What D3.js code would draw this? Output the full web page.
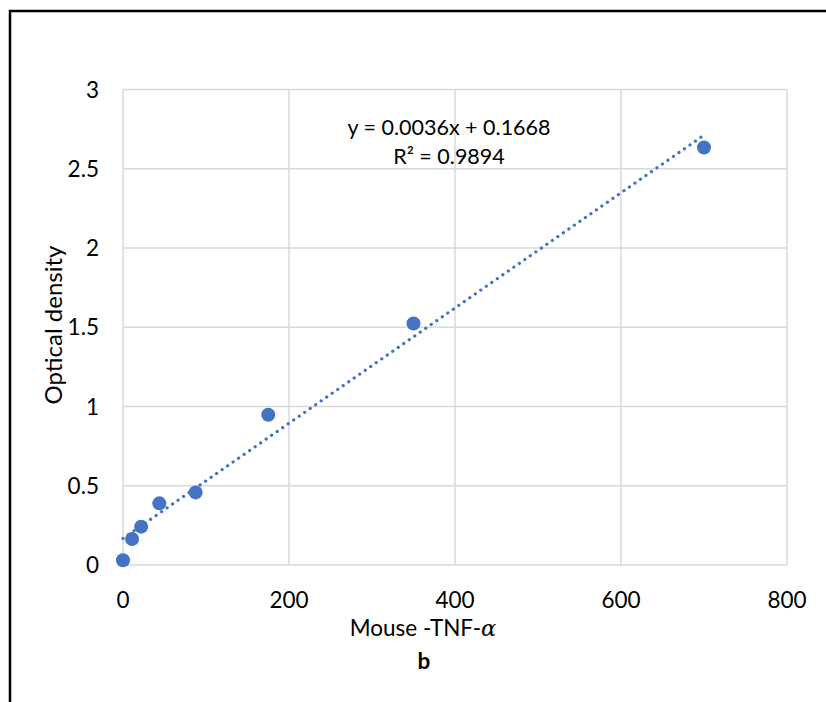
<!DOCTYPE html>
<html><head><meta charset="utf-8">
<script src="https://cdn.jsdelivr.net/npm/d3@7"></script>
<style>
html,body{margin:0;padding:0;background:#fff;}
svg{display:block;font-family:Lato, "Open Sans", sans-serif;}
</style></head>
<body><svg id="chart" width="826" height="702"></svg>
<script>
const concentrations = [0, 10.9375, 21.875, 43.75, 87.5, 175, 350, 700];
const opticalDensity = [0.03, 0.164, 0.242, 0.389, 0.458, 0.948, 1.524, 2.634];
const xTicks = [0, 200, 400, 600, 800];
const yTicks = [0, 0.5, 1, 1.5, 2, 2.5, 3];
const equationText = "y = 0.0036x + 0.1668";
const r2Text = "R² = 0.9894";
const xTitle = "Mouse -TNF-";
const figLabel = "b";
const yTitle = "Optical density";

const svg = d3.select("#chart");
const W = 826, H = 702;
svg.append("rect").attr("width", W).attr("height", H).attr("fill", "#fff");
// outer frame
svg.append("rect").attr("x", 10).attr("y", 11).attr("width", 900).attr("height", 900)
  .attr("fill", "none").attr("stroke", "#000").attr("stroke-width", 2.5);

const x = d3.scaleLinear().domain([0, 800]).range([123, 787]);
const y = d3.scaleLinear().domain([0, 3]).range([565, 89.5]);
const blue = "#4472C4";
const grid = "#d9d9d9";

// gridlines
svg.append("g").selectAll("line").data(yTicks).join("line")
  .attr("x1", x(0)).attr("x2", x(800)).attr("y1", d => y(d)).attr("y2", d => y(d))
  .attr("stroke", grid).attr("stroke-width", 1.5);
svg.append("g").selectAll("line").data(xTicks).join("line")
  .attr("y1", y(0)).attr("y2", y(3)).attr("x1", d => x(d)).attr("x2", d => x(d))
  .attr("stroke", grid).attr("stroke-width", 1.5);

// tick labels
svg.append("g").selectAll("text").data(yTicks).join("text")
  .attr("x", 99).attr("y", d => y(d)).attr("dy", "0.36em")
  .attr("text-anchor", "end").attr("font-size", 22.5).attr("fill", "#000")
  .text(d => d);
svg.append("g").selectAll("text").data(xTicks).join("text")
  .attr("x", d => x(d)).attr("y", 608)
  .attr("text-anchor", "middle").attr("font-size", 22.5).attr("fill", "#000")
  .text(d => d);

// trendline (least squares)
const n = concentrations.length;
const mx = d3.mean(concentrations), my = d3.mean(opticalDensity);
let sxy = 0, sxx = 0;
for (let i = 0; i < n; i++) { sxy += (concentrations[i]-mx)*(opticalDensity[i]-my); sxx += (concentrations[i]-mx)**2; }
const slope = sxy/sxx, icpt = my - slope*mx;
const x0 = d3.min(concentrations), x1 = d3.max(concentrations);
svg.append("line")
  .attr("x1", x(x0)).attr("y1", y(icpt + slope*x0))
  .attr("x2", x(x1)).attr("y2", y(icpt + slope*x1))
  .attr("stroke", blue).attr("stroke-width", 3.2)
  .attr("stroke-linecap", "round").attr("stroke-dasharray", "0.1 6.6");

// points
svg.append("g").selectAll("circle").data(concentrations).join("circle")
  .attr("cx", d => x(d)).attr("cy", (d, i) => y(opticalDensity[i]))
  .attr("r", 7).attr("fill", blue);

// equation
svg.append("text").attr("x", 449).attr("y", 135).attr("text-anchor", "middle")
  .attr("font-size", 21.5).text(equationText);
svg.append("text").attr("x", 449).attr("y", 164).attr("text-anchor", "middle")
  .attr("font-size", 21.5).text(r2Text);

// axis titles
const xt = svg.append("text").attr("x", 423).attr("y", 636).attr("text-anchor", "middle")
  .attr("font-size", 22.5);
xt.append("tspan").text(xTitle);
xt.append("tspan").attr("font-family", "'DejaVu Serif', serif").attr("font-style", "italic").text("α");
svg.append("text").attr("x", 424).attr("y", 669).attr("text-anchor", "middle")
  .attr("font-size", 22.5).attr("font-weight", "bold").text(figLabel);
svg.append("text").attr("transform", "translate(62,325) rotate(-90)")
  .attr("text-anchor", "middle").attr("font-size", 24).text(yTitle);
</script>
</body></html>
